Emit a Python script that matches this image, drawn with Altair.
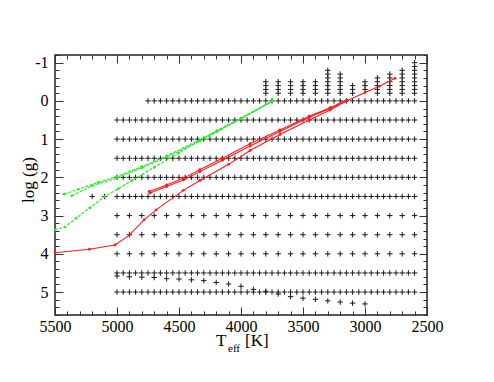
import altair as alt
import pandas as pd

# ---------------- data ----------------
# regular model grid: one row per log(g), from t_hi down to t_lo in steps
row_logg = [0.0, 0.5, 1.0, 1.5, 2.0, 2.5, 3.0, 3.5, 4.0, 4.5, 5.0]
row_t_hi = [4750, 5000, 5000, 5000, 5000, 5000, 5000, 5000, 5000, 5000, 5000]
row_t_lo = [2600, 2600, 2600, 2600, 2600, 2600, 2600, 2600, 2600, 2600, 2600]
row_step = [50, 50, 50, 50, 50, 50, 100, 100, 100, 50, 50]

# extra isolated grid points
extra_T = [5200, 5100]
extra_g = [2.5, 2.5]

# columns with negative log(g) (step 0.1 from g_lo to g_hi)
neg_T = [3800, 3700, 3600, 3500, 3400, 3300, 3200, 3100, 3000, 2900, 2800, 2700, 2600]
neg_g_lo = [-0.5, -0.5, -0.5, -0.5, -0.5, -0.8, -0.7, -0.4, -0.5, -0.6, -0.7, -0.8, -1.0]
neg_g_hi = [-0.2, -0.2, -0.2, -0.2, -0.2, -0.2, -0.2, -0.2, -0.3, -0.2, -0.2, -0.2, -0.2]

# sloping sequence of high-gravity points
diag_T = [5000, 4900, 4800, 4700, 4600, 4500, 4400, 4300, 4200, 4100, 4000,
          3900, 3800, 3700, 3600, 3500, 3400, 3300, 3200, 3100, 3000]
diag_g = [4.58, 4.60, 4.61, 4.62, 4.65, 4.66, 4.68, 4.70, 4.75, 4.79, 4.85,
          4.93, 4.98, 5.05, 5.12, 5.16, 5.19, 5.23, 5.26, 5.29, 5.31]

# green tracks
gA_T = [5427, 5312, 5150, 5003, 4800, 4600, 4331, 4194, 4000, 3744]
gA_g = [2.44, 2.31, 2.13, 1.98, 1.72, 1.44, 1.02, 0.79, 0.46, 0.00]
gB_T = [5365, 5200, 5003, 4800, 4600, 4331, 4194, 4000, 3744]
gB_g = [2.48, 2.22, 2.02, 1.75, 1.47, 1.05, 0.81, 0.47, 0.00]
gC_T = [5500, 5420, 5330, 5220, 5100, 4990, 4880, 4700, 4500, 4350, 4194, 4000, 3744]
gC_g = [3.37, 3.30, 3.07, 2.80, 2.50, 2.30, 2.08, 1.74, 1.36, 1.06, 0.78, 0.45, 0.00]

# red tracks
r1_T = [5500, 5223, 5016, 4901, 4782, 4685, 4465, 4331, 4100, 3927, 3686,
        3450, 3282, 3148, 3000, 2885, 2758]
r1_g = [3.97, 3.88, 3.77, 3.51, 3.11, 2.85, 2.34, 2.08, 1.66, 1.30, 0.88,
        0.50, 0.24, 0.00, -0.22, -0.38, -0.59]
r2_T = [4734, 4600, 4465, 4331, 4150, 3927, 3686, 3450, 3282, 3148]
r2_g = [2.41, 2.24, 2.07, 1.85, 1.55, 1.18, 0.80, 0.43, 0.20, 0.00]
r3_T = [4740, 4600, 4465, 4331, 4150, 3927, 3686, 3450, 3282, 3148]
r3_g = [2.37, 2.20, 2.02, 1.80, 1.50, 1.12, 0.76, 0.40, 0.18, -0.02]

x_major = [5500, 5000, 4500, 4000, 3500, 3000, 2500]
x_minor = list(range(2500, 5501, 100))
y_major = [-1, 0, 1, 2, 3, 4, 5]
y_minor = [round(-1.2 + 0.2 * i, 1) for i in range(35)]

# ---------------- build tables ----------------
pts = []
for g, hi, lo, st in zip(row_logg, row_t_hi, row_t_lo, row_step):
    for t in range(hi, lo - 1, -st):
        pts.append((t, g))
pts += list(zip(extra_T, extra_g))
for t, lo, hi in zip(neg_T, neg_g_lo, neg_g_hi):
    n = int(round((hi - lo) / 0.1))
    for k in range(n + 1):
        pts.append((t, round(lo + 0.1 * k, 1)))
pts += list(zip(diag_T, diag_g))
grid = pd.DataFrame(pts, columns=["T", "g"])


def track(name, ts, gs):
    return pd.DataFrame({"T": ts, "g": gs, "s": name, "o": range(len(ts))})


green = pd.concat([track("A", gA_T, gA_g), track("B", gB_T, gB_g), track("C", gC_T, gC_g)])
red = pd.concat([track("1", r1_T, r1_g), track("2", r2_T, r2_g), track("3", r3_T, r3_g)])

# ---------------- scales & axes ----------------
XS = alt.Scale(domain=[2500, 5500], reverse=True, nice=False, zero=False)
YS = alt.Scale(domain=[-1.2, 5.6], reverse=True, nice=False, zero=False)
FONT = "Liberation Serif"
TC = "#333333"


def lab_axis(orient, values, pad):
    return alt.Axis(orient=orient, values=values, format="d", domain=False, ticks=False,
                    grid=False, labelPadding=pad, labelFont=FONT, labelFontSize=16,
                    labelColor="black", labelFlush=False, labelOverlap=False,
                    labelExpr="datum.value < 0 ? '-' + abs(datum.value) : datum.label",
                    title="")


def tick_axis(orient, values, size):
    return alt.Axis(orient=orient, values=values, domain=False, labels=False, grid=False,
                    ticks=True, tickSize=size, offset=-size, tickColor=TC, tickWidth=1,
                    title="")


def enc(axx, axy):
    return dict(x=alt.X("T:Q", scale=XS, axis=axx), y=alt.Y("g:Q", scale=YS, axis=axy))


plus = alt.Chart(grid).mark_point(
    shape="M-1,0L1,0M0,-1L0,1", size=30, filled=False, stroke="#1a1a1a",
    strokeWidth=1, opacity=1
).encode(**enc(lab_axis("bottom", x_major, 3), lab_axis("left", y_major, 7)))

g_lines = alt.Chart(green).mark_line(
    color="#22ee22", strokeWidth=1.2, strokeDash=[3, 1.5]
).encode(**enc(tick_axis("bottom", x_major, 8), tick_axis("left", y_major, 8)),
         detail="s:N", order="o:Q")

g_dots = alt.Chart(green).mark_circle(color="#22ee22", size=7, opacity=1).encode(
    **enc(tick_axis("bottom", x_minor, 4), tick_axis("left", y_minor, 4)))

r_lines = alt.Chart(red).mark_line(color="#ff1a1a", strokeWidth=1.1).encode(
    **enc(tick_axis("top", x_major, 8), tick_axis("right", y_major, 8)),
    detail="s:N", order="o:Q")

r_dots = alt.Chart(red).mark_circle(color="#ff1a1a", size=8, opacity=1).encode(
    **enc(tick_axis("top", x_minor, 4), tick_axis("right", y_minor, 4)))

one = pd.DataFrame({"k": [0]})
t_T = alt.Chart(one).mark_text(text="T", font=FONT, fontSize=17, align="left",
                               baseline="alphabetic", color="black").encode(
    x=alt.value(161), y=alt.value(291))
t_eff = alt.Chart(one).mark_text(text="eff", font=FONT, fontSize=11, align="left",
                                 baseline="alphabetic", color="black").encode(
    x=alt.value(173), y=alt.value(297))
t_K = alt.Chart(one).mark_text(text="[K]", font=FONT, fontSize=17, align="left",
                               baseline="alphabetic", color="black").encode(
    x=alt.value(190), y=alt.value(291))
t_y = alt.Chart(one).mark_text(text="log (g)", font=FONT, fontSize=17, align="center",
                               baseline="middle", angle=270, color="black").encode(
    x=alt.value(-26), y=alt.value(125))

chart = alt.layer(plus, g_lines, g_dots, r_lines, r_dots, t_T, t_eff, t_K, t_y).resolve_axis(
    x="independent", y="independent"
).properties(
    width=372, height=260,
    autosize=alt.AutoSizeParams(type="none"),
    padding={"left": 47, "top": 47, "right": 59, "bottom": 59},
).configure_view(stroke="#222222", strokeWidth=1.5)

chart.save("out.html", embed_options={"renderer": "svg", "actions": False})
